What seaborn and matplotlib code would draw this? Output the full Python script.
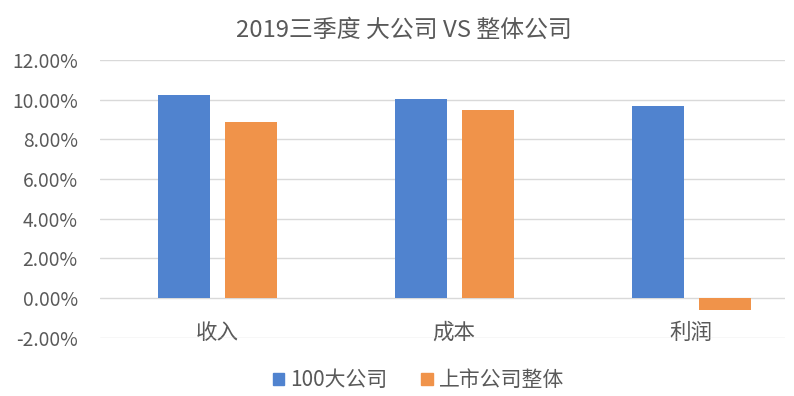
import matplotlib
matplotlib.use("Agg")
import matplotlib.pyplot as plt
import seaborn as sns
import pandas as pd
from matplotlib.ticker import FuncFormatter, MultipleLocator
from matplotlib.patches import Patch

categories = ["收入", "成本", "利润"]
series_names = ["100大公司", "上市公司整体"]
big100 = [10.26, 10.02, 9.67]
listed_all = [8.88, 9.47, -0.6]
title = "2019三季度 大公司 VS 整体公司"

sns.set_theme(style="white")
plt.rcParams['font.family'] = ['Noto Sans CJK SC', 'DejaVu Sans']

df = pd.DataFrame({
    "cat": categories * 2,
    "series": [series_names[0]] * 3 + [series_names[1]] * 3,
    "value": big100 + listed_all,
})

colors = ["#5083CF", "#F0934A"]
grey = "#595959"

fig = plt.figure(figsize=(7.94, 3.96), dpi=100)
ax = fig.add_axes([0.126, 0.146, 0.863, 0.702])
sns.barplot(data=df, x="cat", y="value", hue="series", palette=colors,
            width=0.566, gap=0.226, ax=ax, legend=False, saturation=1,
            linewidth=0, edgecolor="none")

ax.set_ylim(-2.03, 12)
ax.yaxis.set_major_locator(MultipleLocator(2))
ax.yaxis.set_major_formatter(FuncFormatter(lambda v, p: f"{v:.2f}%"))
ax.grid(axis="y", color="#D9D9D9", linewidth=1)
ax.set_axisbelow(True)
for s in ax.spines.values():
    s.set_visible(False)
ax.set_xlabel("")
ax.set_ylabel("")
ax.tick_params(axis="y", labelsize=13.8, colors=grey, length=0, pad=16)
ax.tick_params(axis="x", labelsize=15.5, colors=grey, length=0, pad=-12)
ax.set_xlim(-0.494, 2.397)

fig.text(0.509, 0.924, title, ha="center", va="center", fontsize=17.2, color=grey)

handles = [Patch(color=c) for c in colors]
fig.legend(handles, series_names, loc="center", bbox_to_anchor=(0.527, 0.04),
           ncol=2, frameon=False, fontsize=15, labelcolor=grey,
           handlelength=0.55, handleheight=0.55, handletextpad=0.3, columnspacing=1.6)

fig.savefig("out.png", dpi=100, facecolor="white")
